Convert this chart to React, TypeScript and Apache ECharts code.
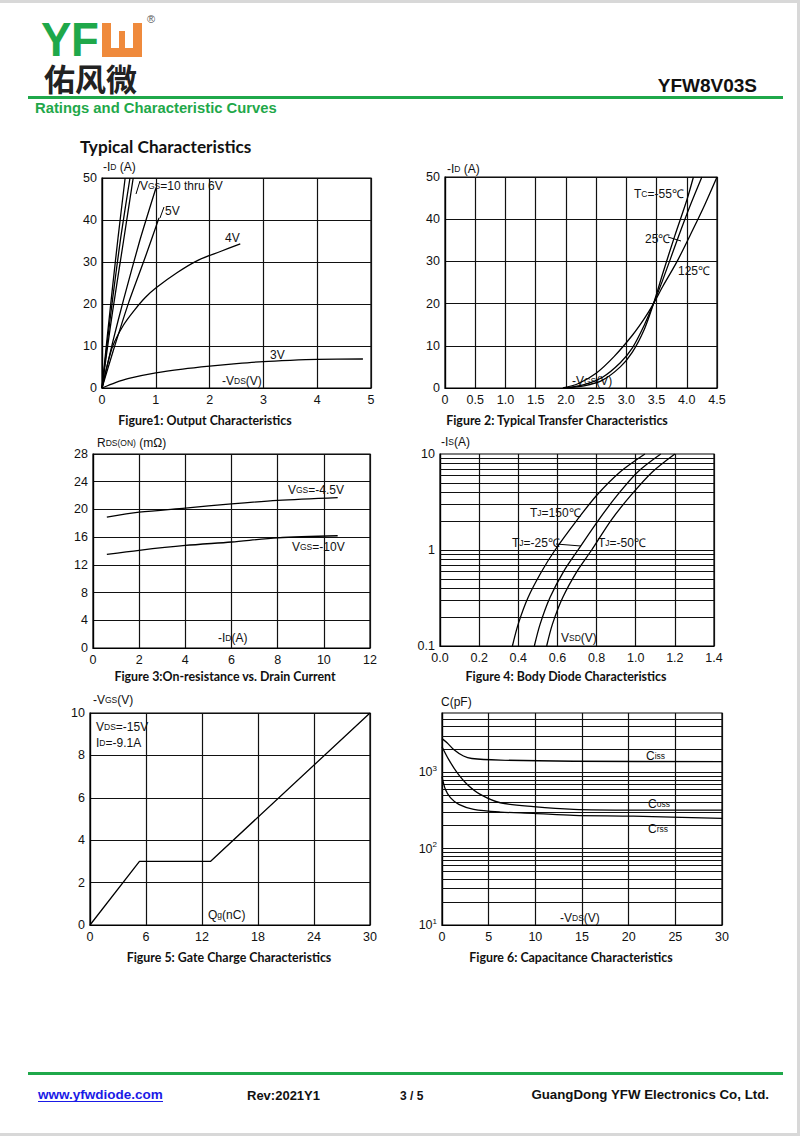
import React, { useEffect, useRef } from "react";
import * as echarts from "echarts";

const FONT = '"Liberation Sans", Arial, sans-serif';
const TFONT = 'Lato, "Open Sans", sans-serif';
const GREEN = "#1fa84a";

// ---------- Figure 1: Output characteristics (-VDS, -ID)
const fig1Vgs10 = [[0, 0], [0.1, 12.5], [0.2, 24.5], [0.3, 36], [0.43, 50]];
const fig1Vgs8 = [[0, 0], [0.1, 11], [0.2, 21.5], [0.35, 36], [0.52, 50]];
const fig1Vgs7 = [[0, 0], [0.1, 9.5], [0.2, 18.5], [0.4, 35], [0.58, 50]];
const fig1Vgs6 = [[0, 0], [0.2, 11], [0.4, 21], [0.7, 35], [1.0, 47.5]];
const fig1Vgs5 = [[0, 0], [0.2, 8.5], [0.5, 20.5], [0.8, 31], [1.06, 40.5]];
const fig1Vgs4 = [[0, 0], [0.1, 5.5], [0.2, 10], [0.4, 15], [0.6, 18.5], [0.8, 21.5], [1.0, 23.8], [1.4, 27.5], [1.8, 30.5], [2.2, 32.5], [2.57, 34.3]];
const fig1Vgs3 = [[0, 0], [0.25, 1.3], [0.5, 2.3], [1, 3.6], [1.5, 4.5], [2, 5.2], [2.5, 5.8], [3, 6.3], [3.5, 6.6], [4, 6.8], [4.85, 6.9]];

// ---------- Figure 2: Transfer characteristics (-VGS, -ID)
const fig2TcM55 = [[2.0, 0], [2.3, 0.5], [2.6, 1.8], [2.9, 5], [3.1, 8.5], [3.3, 14], [3.45, 20], [3.6, 27], [3.8, 36], [4.0, 44.5], [4.11, 50]];
const fig2Tc25 = [[2.0, 0], [2.3, 0.8], [2.6, 2.5], [2.9, 6], [3.1, 9.5], [3.3, 15], [3.45, 20], [3.6, 25.5], [3.84, 35], [4.05, 43], [4.25, 50]];
const fig2Tc125 = [[1.95, 0], [2.2, 1], [2.5, 3.5], [2.8, 7.5], [3.1, 12.5], [3.3, 16.5], [3.45, 20], [3.6, 24], [3.84, 30], [4.1, 37.5], [4.3, 43.5], [4.5, 50]];

// ---------- Figure 3: On-resistance vs drain current (-ID, mOhm)
const fig3Vgs45 = [[0.6, 18.9], [2, 19.6], [4, 20.2], [6, 20.8], [8, 21.3], [10.6, 21.7]];
const fig3Vgs10 = [[0.6, 13.5], [2, 14.1], [4, 14.8], [6, 15.3], [8, 15.9], [10.6, 16.2]];

// ---------- Figure 4: Body diode (VSD, -IS log)
const fig4Tj150 = [[0.37, 0.1], [0.4, 0.17], [0.45, 0.32], [0.52, 0.6], [0.588, 1.0], [0.7, 2.05], [0.8, 3.7], [0.92, 6.5], [1.047, 10]];
const fig4TjM25 = [[0.482, 0.1], [0.512, 0.17], [0.562, 0.32], [0.632, 0.6], [0.705, 1.0], [0.81, 2.05], [0.905, 3.7], [1.01, 6.5], [1.128, 10]];
const fig4TjM50 = [[0.545, 0.1], [0.575, 0.17], [0.627, 0.32], [0.7, 0.6], [0.775, 1.0], [0.875, 2.05], [0.975, 3.7], [1.085, 6.5], [1.2, 10]];
const fig4Minor = [0.2, 0.3, 0.4, 0.5, 0.6, 0.7, 0.8, 0.9, 1, 2, 3, 4, 5, 6, 7, 8, 9];

// ---------- Figure 5: Gate charge (Qg, -VGS)
const fig5Gate = [[0, 0], [5.3, 3], [12.9, 3], [30, 10]];

// ---------- Figure 6: Capacitance (-VDS, pF log)
const fig6Ciss = [[0, 2770], [0.54, 2450], [1.25, 2000], [2.3, 1640], [3.2, 1520], [6.25, 1450], [14.1, 1400], [30, 1380]];
const fig6Coss = [[0, 2170], [0.71, 1480], [1.6, 1000], [2.68, 700], [4.1, 515], [6.25, 400], [9.8, 355], [14.1, 327], [20.5, 320], [30, 320]];
const fig6Crss = [[0, 880], [0.36, 600], [0.9, 466], [1.8, 380], [3.4, 327], [6.25, 302], [9.8, 290], [14.1, 273], [20.5, 267], [30, 250]];
const fig6Minor = [20, 30, 40, 50, 60, 70, 80, 90, 100, 200, 300, 400, 500, 600, 700, 800, 900, 1000, 2000, 3000, 4000, 5000];

const grids = [
  { left: 102, top: 178, width: 269, height: 210 },
  { left: 445, top: 177, width: 272, height: 211 },
  { left: 93, top: 454, width: 277, height: 194 },
  { left: 440, top: 454, width: 274, height: 192 },
  { left: 90, top: 713, width: 280, height: 212 },
  { left: 442, top: 713, width: 280, height: 212 },
];

const labelStyle = { color: "#111", fontFamily: FONT, fontSize: 12.5 };

function valAxis(gi: number, min: number, max: number, interval: number, fmt?: any) {
  return {
    type: "value",
    gridIndex: gi,
    min,
    max,
    interval,
    axisLine: { show: true, lineStyle: { color: "#000", width: 1.2 } },
    axisTick: { show: false },
    splitLine: { show: true, lineStyle: { color: "#111", width: 1.2 } },
    axisLabel: { ...labelStyle, margin: 5, formatter: fmt },
  };
}

function logAxis(gi: number, min: number, max: number, fmt: any, rich?: any) {
  return {
    type: "log",
    logBase: 10,
    gridIndex: gi,
    min,
    max,
    axisLine: { show: true, lineStyle: { color: "#000", width: 1.2 } },
    axisTick: { show: false },
    splitLine: { show: false },
    axisLabel: { ...labelStyle, margin: 5, formatter: fmt, rich },
  };
}

function curve(gi: number, data: number[][], smooth: any = 0.3, extra: any = {}) {
  return {
    type: "line",
    xAxisIndex: gi,
    yAxisIndex: gi,
    data,
    symbol: "none",
    showSymbol: false,
    smooth,
    silent: true,
    lineStyle: { color: "#000", width: 1.3 },
    z: 5,
    ...extra,
  };
}

function gridMark(values: number[]) {
  return {
    markLine: {
      silent: true,
      symbol: ["none", "none"],
      label: { show: false },
      animation: false,
      lineStyle: { color: "#111", width: 1.1, type: "solid" },
      emphasis: { disabled: true },
      data: values.map((v) => ({ yAxis: v })),
    },
  };
}

const isPow10 = (v: number) => {
  const l = Math.log10(v);
  return Math.abs(l - Math.round(l)) < 1e-6;
};

const sub = { fontSize: 8.5, fontFamily: FONT, fill: "#111" };

function txt(x: number, y: number, text: string, o: any = {}) {
  return {
    type: "text",
    x,
    y,
    silent: true,
    scaleX: o.scaleX ?? 1,
    style: {
      text,
      fontFamily: FONT,
      fontSize: 12,
      fill: "#111",
      align: "left",
      verticalAlign: "middle",
      rich: { s: sub },
      ...o.style,
    },
  };
}

function ln(x1: number, y1: number, x2: number, y2: number, w = 1, c = "#000") {
  return { type: "line", silent: true, shape: { x1, y1, x2, y2 }, style: { stroke: c, lineWidth: w } };
}

function rect(x: number, y: number, w: number, h: number, fill: string) {
  return { type: "rect", silent: true, shape: { x, y, width: w, height: h }, style: { fill } };
}

function title(cx: number, y: number, text: string) {
  return txt(cx, y, text, { style: { fontFamily: TFONT, fontWeight: "bold", fontSize: 12.4, align: "center" } });
}

export default function App() {
  const ref = useRef<HTMLDivElement>(null);
  useEffect(() => {
    if (!ref.current) return;
    const chart = echarts.init(ref.current, undefined, { renderer: "svg" });
    const gridOpts = grids.map((g) => ({ ...g, show: true, borderColor: "#000", borderWidth: 1.2, containLabel: false }));

    const option: any = {
      animation: false,
      grid: gridOpts,
      xAxis: [
        valAxis(0, 0, 5, 1),
        valAxis(1, 0, 4.5, 0.5, (v: number) => (v === 0 ? "0" : v.toFixed(1))),
        valAxis(2, 0, 12, 2),
        valAxis(3, 0, 1.4, 0.2, (v: number) => v.toFixed(1)),
        valAxis(4, 0, 30, 6),
        valAxis(5, 0, 30, 5),
      ],
      yAxis: [
        valAxis(0, 0, 50, 10),
        valAxis(1, 0, 50, 10),
        valAxis(2, 0, 28, 4),
        logAxis(3, 0.1, 10, (v: number) => {
          if (!isPow10(v)) return "";
          const l = Math.round(Math.log10(v));
          return l >= 1 ? "10" : l === 0 ? "1" : "0.1";
        }),
        valAxis(4, 0, 10, 2),
        logAxis(
          5,
          10,
          6000,
          (v: number) => {
            if (!isPow10(v)) return "";
            const l = Math.round(Math.log10(v));
            return `{b|10}{p|${l}}`;
          },
          {
            b: { fontSize: 12.5, fontFamily: FONT, color: "#111" },
            p: { fontSize: 8, fontFamily: FONT, color: "#111", verticalAlign: "top", padding: [0, 0, 8, 0] },
          }
        ),
      ],
      series: [
        curve(0, fig1Vgs10, 0.2),
        curve(0, fig1Vgs8, 0.2),
        curve(0, fig1Vgs7, 0.2),
        curve(0, fig1Vgs6, 0.2),
        curve(0, fig1Vgs5, 0.2),
        curve(0, fig1Vgs4),
        curve(0, fig1Vgs3),
        curve(1, fig2TcM55),
        curve(1, fig2Tc25),
        curve(1, fig2Tc125),
        curve(2, fig3Vgs45),
        curve(2, fig3Vgs10),
        curve(3, fig4Tj150, 0.3, gridMark(fig4Minor)),
        curve(3, fig4TjM25),
        curve(3, fig4TjM50),
        curve(4, fig5Gate, false),
        curve(5, fig6Ciss, 0.3, gridMark(fig6Minor)),
        curve(5, fig6Coss),
        curve(5, fig6Crss),
      ],
      graphic: [
        // logo
        txt(41, 40, "Y", { scaleX: 0.95, style: { fontSize: 48, fontWeight: "bold", fill: GREEN } }),
        txt(71, 40, "F", { scaleX: 0.95, style: { fontSize: 48, fontWeight: "bold", fill: GREEN } }),
        rect(102, 23, 9, 34, "#ef8a3c"),
        rect(133, 23, 9, 34, "#ef8a3c"),
        rect(102, 48, 40, 9, "#ef8a3c"),
        rect(119, 31, 6, 17, "#ef8a3c"),
        txt(147, 19, "®", { style: { fontSize: 11, fill: "#555" } }),
        txt(44, 77, "佑风微", { style: { fontFamily: '"Noto Sans CJK SC"', fontWeight: "bold", fontSize: 31, fill: "#222" } }),
        txt(757, 85, "YFW8V03S", { style: { fontWeight: "bold", fontSize: 19, align: "right" } }),
        rect(28, 96, 755, 3, GREEN),
        txt(35, 108, "Ratings and Characteristic Curves", { style: { fontWeight: "bold", fontSize: 14.8, fill: GREEN } }),
        txt(80, 146, "Typical Characteristics", { style: { fontFamily: TFONT, fontWeight: "bold", fontSize: 17.2 } }),

        // Figure 1 annotations
        txt(103, 167, "-I{s|D} (A)"),
        txt(140, 186, "V{s|GS}=10 thru 6V"),
        ln(136, 194, 140, 181),
        txt(165, 211, "5V"),
        ln(160, 218, 164, 207),
        txt(225, 238, "4V"),
        txt(270, 355, "3V"),
        txt(222, 381, "-V{s|DS}(V)"),
        title(205, 420, "Figure1: Output Characteristics"),

        // Figure 2 annotations
        txt(447, 169, "-I{s|D} (A)"),
        txt(634, 194, "T{s|C}=-55℃"),
        txt(645, 239, "25℃"),
        ln(668, 237, 681, 241),
        txt(678, 271, "125℃"),
        txt(572, 381, "-V{s|GS}(V)"),
        title(557, 420, "Figure 2: Typical Transfer Characteristics"),

        // Figure 3 annotations
        txt(97, 443, "R{s|DS(ON)} (mΩ)"),
        txt(288, 490, "V{s|GS}=-4.5V"),
        txt(292, 547, "V{s|GS}=-10V"),
        txt(218, 638, "-I{s|D}(A)"),
        title(225, 676, "Figure 3:On-resistance vs. Drain Current"),

        // Figure 4 annotations
        txt(441, 442, "-I{s|S}(A)"),
        txt(530, 513, "T{s|J}=150℃"),
        txt(512, 543, "T{s|J}=-25℃"),
        ln(556, 544, 581, 546),
        txt(598, 543, "T{s|J}=-50℃"),
        txt(561, 638, "V{s|SD}(V)"),
        title(566, 676, "Figure 4: Body Diode Characteristics"),

        // Figure 5 annotations
        txt(93, 700, "-V{s|GS}(V)"),
        txt(96, 727, "V{s|DS}=-15V"),
        txt(96, 743, "I{s|D}=-9.1A"),
        txt(208, 915, "Q{s|g}(nC)"),
        title(229, 957, "Figure 5: Gate Charge Characteristics"),

        // Figure 6 annotations
        txt(441, 702, "C(pF)"),
        txt(646, 756, "C{s|iss}"),
        txt(648, 804, "C{s|oss}"),
        txt(648, 829, "C{s|rss}"),
        txt(560, 918, "-V{s|DS}(V)"),
        title(571, 957, "Figure 6: Capacitance Characteristics"),

        // footer
        rect(28, 1072, 755, 3, GREEN),
        txt(38, 1094, "www.yfwdiode.com", { style: { fontWeight: "bold", fontSize: 13.5, fill: "#1a1ae6" } }),
        ln(38, 1101.5, 163, 1101.5, 1.2, "#1a1ae6"),
        txt(247, 1095, "Rev:2021Y1", { style: { fontWeight: "bold", fontSize: 13 } }),
        txt(400, 1096, "3 / 5", { style: { fontWeight: "bold", fontSize: 12 } }),
        txt(769, 1094, "GuangDong YFW Electronics Co, Ltd.", { style: { fontWeight: "bold", fontSize: 13.3, align: "right" } }),
      ],
    };
    chart.setOption(option);
    return () => chart.dispose();
  }, []);

  return (
    <div style={{ position: "fixed", left: 0, top: 0, width: 800, height: 1136, background: "#d8d8d8" }}>
      <div style={{ position: "absolute", left: 0, top: 3, width: 797, height: 1130, background: "#fff" }} />
      <div ref={ref} style={{ position: "absolute", left: 0, top: 0, width: 800, height: 1136 }} />
    </div>
  );
}
